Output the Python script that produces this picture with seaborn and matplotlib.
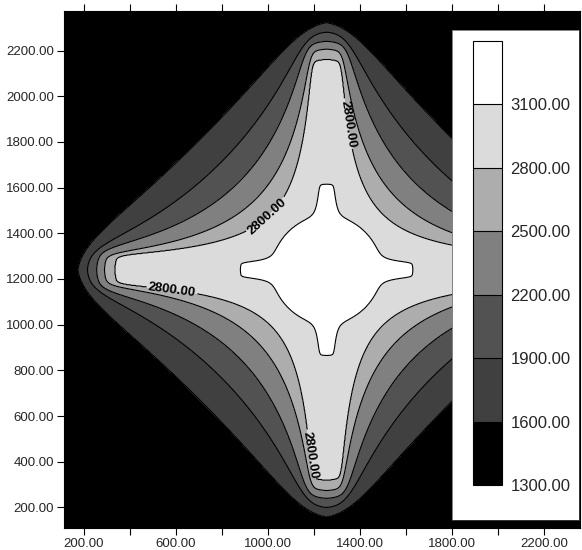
import numpy as np
import matplotlib
matplotlib.use("Agg")
import matplotlib.pyplot as plt
import seaborn as sns

# ---- map values -----------------------------------------------------------
levels = [1300, 1600, 1900, 2200, 2500, 2800, 3100, 3400]
band_grays = ["0.0", "0.25", "0.32", "0.50", "0.68", "0.86", "1.0"]
labelled_level = 2800

# shape of each closed contour of the cross-shaped high:
#   diag_reach  - offset (in x and in y) where the contour crosses a diagonal
#   flank_power - power-mean exponent of the flanks (0 = hyperbolic, 1 = straight)
#   arm_tip     - reach of the contour along the arm centre line
contour_values = [3100, 2800, 2500, 2200, 1900, 1600]
diag_reach = [109, 244, 309, 383, 465, 561]
flank_power = [0.0, 0.0, 0.2, 0.35, 0.6, 0.85]
arm_tip = [374, 922, 966, 1000, 1040, 1083]
nose_width = 143.5         # arm ends drop back by nose_drop at this offset
nose_drop = 39.0
nose_power = 1.6
core_radius = 235          # round part of the 3100 contour in the middle
center_x, center_y = 1255, 1240

x_range = (113, 2357)
y_range = (110, 2373)
x_ticks = [200, 600, 1000, 1400, 1800, 2200]
x_minor = [400, 800, 1200, 1600, 2000]
y_ticks = [200, 400, 600, 800, 1000, 1200, 1400, 1600, 1800, 2000, 2200]
label_spots = [(1322, 1874), (991, 1480), (583, 1165), (1191, 430)]

# ---- style ----------------------------------------------------------------
sns.set_theme(style="ticks")
plt.rcParams["font.family"] = ["Liberation Sans", "DejaVu Sans"]

# ---- field ----------------------------------------------------------------
xs = np.linspace(*x_range, 800)
ys = np.linspace(*y_range, 800)
X, Y = np.meshgrid(xs, ys)
dx, dy = np.abs(X - center_x), np.abs(Y - center_y)
across, along = np.minimum(dx, dy), np.maximum(dx, dy)
r = np.hypot(dx, dy)


def power_mean(a, b, q):
    if q < 1e-6:
        return np.sqrt(a * b)
    return ((a ** q + b ** q) / 2.0) ** (1.0 / q)


def shape_ratio(i, n=20):
    """<1 inside contour i, 1 on it, >1 outside."""
    flank_part = power_mean(across, along, flank_power[i]) / diag_reach[i]
    nose = nose_drop * (across / nose_width) ** nose_power
    tip_part = (along + nose) / arm_tip[i]
    return (flank_part ** n + tip_part ** n) ** (1.0 / n)


P = [shape_ratio(i) for i in range(len(contour_values))]
# the innermost contour also wraps a round core
P[0] = (P[0] ** -8 + (r / core_radius) ** -8) ** (-1.0 / 8)

step = 300.0
Z = np.clip(contour_values[-1] - step * (P[-1] - 1), levels[0] + 1, None)
inside = P[0] < 1
Z[inside] = np.minimum(contour_values[0] + step * (1 - P[0][inside]),
                       levels[-1] - 1)
for i in range(len(contour_values) - 1):
    m = (P[i] >= 1) & (P[i + 1] < 1)
    frac = (P[i][m] - 1) / (P[i][m] - P[i + 1][m])
    Z[m] = contour_values[i] + (contour_values[i + 1] - contour_values[i]) * frac

# ---- figure ---------------------------------------------------------------
fig = plt.figure(figsize=(5.82, 5.50), dpi=100)
ax = fig.add_axes([64 / 582, 22 / 550, 516 / 582, 517 / 550])
palette = sns.color_palette(band_grays)
cf = ax.contourf(X, Y, Z, levels=levels, colors=palette)
plain_levels = [v for v in levels[1:-1] if v != labelled_level]
ax.contour(X, Y, Z, levels=plain_levels, colors="black", linewidths=0.8)
cl = ax.contour(X, Y, Z, levels=[labelled_level], colors="black",
                linewidths=0.8)
texts = ax.clabel(cl, manual=label_spots, fmt="%.2f",
                  fontsize=9.5, inline=True, inline_spacing=2)
for t in texts:
    t.set_fontweight("bold")

ax.set_xlim(*x_range)
ax.set_ylim(*y_range)
ax.set_xticks(x_ticks)
ax.set_xticks(x_minor, minor=True)
ax.set_yticks(y_ticks)
ax.set_xticklabels([f"{v:.2f}" for v in x_ticks], fontsize=9.5)
ax.set_yticklabels([f"{v:.2f}" for v in y_ticks], fontsize=9.5)
ax.tick_params(axis="x", which="both", direction="out", length=5, width=0.8,
               top=True, bottom=True, labeltop=False, color="black", pad=2)
ax.tick_params(axis="y", direction="out", length=5, width=0.8, color="black",
               pad=2)
for sp in ax.spines.values():
    sp.set_color("black")
    sp.set_linewidth(0.8)

# white legend panel with the colour bar
panel = fig.add_axes([452 / 582, 30 / 550, 127 / 582, 490 / 550])
panel.set_facecolor("white")
panel.set_xticks([])
panel.set_yticks([])
for sp in panel.spines.values():
    sp.set_linewidth(0.5)
    sp.set_color("0.3")

cax = fig.add_axes([473 / 582, 65 / 550, 29 / 582, 444 / 550])
cb = fig.colorbar(cf, cax=cax, ticks=levels[:-1], drawedges=True)
cb.ax.set_yticklabels([f"{v:.2f}" for v in levels[:-1]], fontsize=12)
cb.ax.tick_params(length=0, pad=6)
cb.outline.set_edgecolor("black")
cb.outline.set_linewidth(0.8)
cb.dividers.set_color("black")
cb.dividers.set_linewidth(0.8)

fig.savefig("out.png", dpi=100)
